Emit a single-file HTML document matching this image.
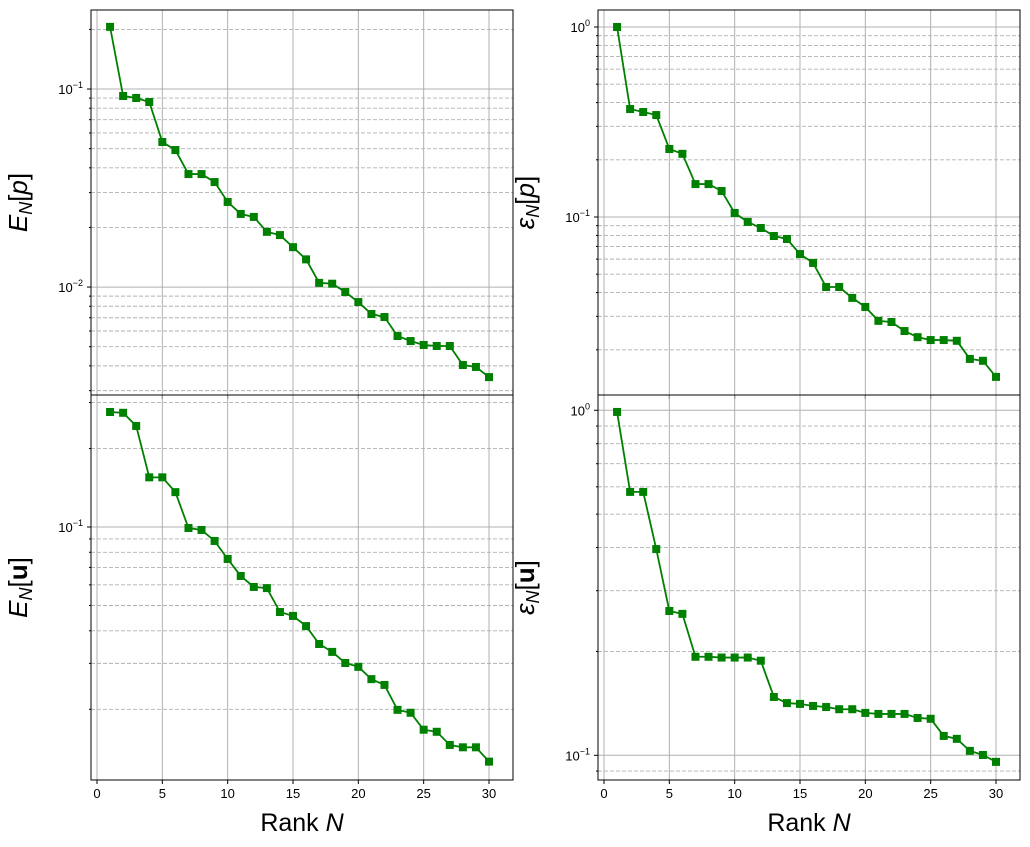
<!DOCTYPE html>
<html><head><meta charset="utf-8">
<style>
body{margin:0;background:#fff;}
svg{display:block;font-family:"Liberation Sans","DejaVu Sans",sans-serif;}
</style></head>
<body>
<svg id="chart" width="1030" height="847" xmlns="http://www.w3.org/2000/svg"></svg>
<script>
const ranks = [1,2,3,4,5,6,7,8,9,10,11,12,13,14,15,16,17,18,19,20,21,22,23,24,25,26,27,28,29,30];
const absPressure = [0.206,0.0922,0.0901,0.0860,0.0540,0.0492,0.0372,0.0372,0.0339,0.0269,0.0234,0.0226,0.0190,0.0183,0.0159,0.0138,0.0105,0.0104,0.00944,0.00840,0.00731,0.00706,0.00566,0.00534,0.00510,0.00504,0.00504,0.00404,0.00395,0.00351];
const relPressure = [1.0,0.370,0.357,0.344,0.228,0.215,0.149,0.149,0.137,0.105,0.0942,0.0875,0.0794,0.0766,0.0638,0.0573,0.0428,0.0428,0.0375,0.0336,0.0284,0.0280,0.0251,0.0233,0.0225,0.0225,0.0223,0.0179,0.0175,0.0144];
const absVelocity = [0.276,0.274,0.244,0.155,0.155,0.136,0.0991,0.0974,0.0884,0.0754,0.0649,0.0589,0.0583,0.0472,0.0456,0.0417,0.0356,0.0332,0.0301,0.0291,0.0261,0.0248,0.0199,0.0194,0.0167,0.0164,0.0146,0.0143,0.0143,0.0126];
const relVelocity = [0.989,0.580,0.580,0.396,0.262,0.257,0.193,0.193,0.192,0.192,0.192,0.188,0.1476,0.1417,0.1409,0.139,0.138,0.136,0.136,0.1327,0.1318,0.1318,0.1318,0.1283,0.1276,0.1138,0.1116,0.1030,0.1002,0.0957];
const xTicks = [0,5,10,15,20,25,30];

const NS="http://www.w3.org/2000/svg";
const svg=document.getElementById('chart');
function mk(tag,attrs,parent){const e=document.createElementNS(NS,tag);for(const k in attrs)e.setAttribute(k,attrs[k]);(parent||svg).appendChild(e);return e;}

const panels=[
 {name:'abs-pressure',data:absPressure,x0:91,x1:513,y0:10,y1:395,lmin:-2.545,lmax:-0.601,lab:'E',sub:'N',arg:'p',bold:false,xl:false},
 {name:'rel-pressure',data:relPressure,x0:598,x1:1020,y0:10,y1:395,lmin:-1.937,lmax:0.0895,lab:'ε',sub:'N',arg:'p',bold:false,xl:false},
 {name:'abs-velocity',data:absVelocity,x0:91,x1:513,y0:395,y1:780,lmin:-1.970,lmax:-0.494,lab:'E',sub:'N',arg:'u',bold:true,xl:true},
 {name:'rel-velocity',data:relVelocity,x0:598,x1:1020,y0:395,y1:780,lmin:-1.0716,lmax:0.0443,lab:'ε',sub:'N',arg:'u',bold:true,xl:true}
];

panels.forEach(p=>{
  const g=mk('g',{});
  
  
  const X=v=>p.x0+6+v*(p.x1-p.x0-30)/30;
  const Y=v=>p.y0+(p.lmax-Math.log10(v))/(p.lmax-p.lmin)*(p.y1-p.y0);
  const lo=Math.floor(p.lmin), hi=Math.ceil(p.lmax);
  for(let d=lo;d<=hi;d++){
    for(let m=1;m<10;m++){
      const v=m*Math.pow(10,d), lv=Math.log10(v);
      if(lv<p.lmin||lv>p.lmax)continue;
      const y=Y(v);
      if(m===1){
        const l=mk('line',{x1:p.x0,x2:p.x1,y1:y,y2:y,stroke:'#b0b0b0','stroke-width':1},g);
        
        mk('line',{x1:p.x0-4,x2:p.x0,y1:y,y2:y,stroke:'#000'},g);
        const t=mk('text',{x:p.x0-8,y:y+5,'text-anchor':'end','font-size':13},g);
        
        t.textContent='10';
        const s=mk('tspan',{dy:-6,'font-size':9},t);s.textContent=(d<0?'\u2212'+(-d):''+d);
      } else {
        const l=mk('line',{x1:p.x0,x2:p.x1,y1:y,y2:y,stroke:'#b0b0b0','stroke-width':0.9,'stroke-dasharray':'4,2'},g);
        
        mk('line',{x1:p.x0-2,x2:p.x0,y1:y,y2:y,stroke:'#000'},g);
      }
    }
  }
  xTicks.forEach(v=>{
    const x=X(v);
    const l=mk('line',{x1:x,x2:x,y1:p.y0,y2:p.y1,stroke:'#b0b0b0','stroke-width':1},g);
    
    mk('line',{x1:x,x2:x,y1:p.y1,y2:p.y1+4,stroke:'#000'},g);
    if(p.xl){
      const t=mk('text',{x:x,y:p.y1+18,'text-anchor':'middle','font-size':13},g);
      
      t.textContent=v;
    }
  });
  const pts=ranks.map((r,i)=>X(r)+','+Y(p.data[i])).join(' ');
  const pl=mk('polyline',{points:pts,fill:'none',stroke:'#008000','stroke-width':1.8},g);
  
  ranks.forEach((r,i)=>{
    const m=mk('rect',{x:X(r)-4,y:Y(p.data[i])-4,width:8,height:8,fill:'#008000'},g);
    
    
  });
  const fr=mk('rect',{x:p.x0,y:p.y0,width:p.x1-p.x0,height:p.y1-p.y0,fill:'none',stroke:'#000','stroke-width':1},g);
  
  const cx=p.x0-64, cy=(p.y0+p.y1)/2;
  const yl=mk('text',{x:cx,y:cy,'text-anchor':'middle','font-size':26,transform:`rotate(-90 ${cx} ${cy})`},g);
  
  const a=mk('tspan',{'font-style':'italic'},yl);a.textContent=p.lab;
  const b=mk('tspan',{'font-style':'italic','font-size':18,dy:5},yl);b.textContent=p.sub;
  const c=mk('tspan',{dy:-5},yl);c.textContent='[';
  const d2=mk('tspan',p.bold?{'font-weight':'bold'}:{'font-style':'italic'},yl);d2.textContent=p.arg;
  const e=mk('tspan',{},yl);e.textContent=']';
  if(p.xl){
    const xt=mk('text',{x:(p.x0+p.x1)/2,y:831,'text-anchor':'middle','font-size':25},g);
    
    xt.textContent='Rank ';
    const n=mk('tspan',{'font-style':'italic'},xt);n.textContent='N';
  }
});
</script>
</body></html>
